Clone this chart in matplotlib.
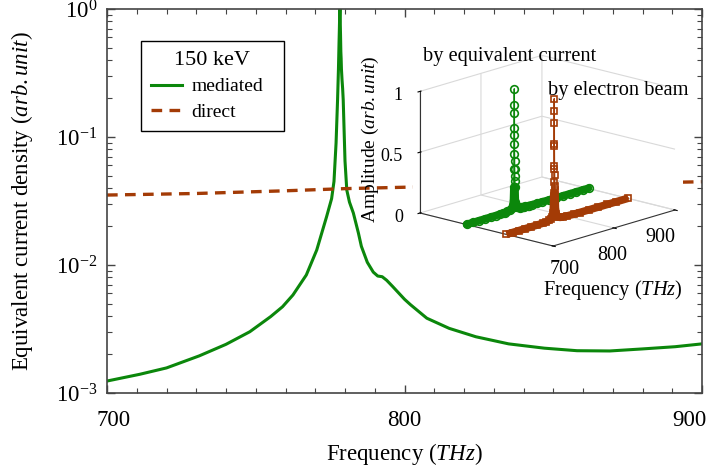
import numpy as np
import matplotlib
matplotlib.use('Agg')
import matplotlib.pyplot as plt
from matplotlib.patches import Rectangle
from matplotlib.ticker import MultipleLocator
from matplotlib.transforms import ScaledTranslation
from mpl_toolkits.mplot3d import proj3d

plt.rcParams['font.family'] = ['Liberation Serif', 'DejaVu Serif']
plt.rcParams['mathtext.fontset'] = 'custom'
plt.rcParams['mathtext.rm'] = 'Liberation Serif'
plt.rcParams['mathtext.it'] = 'Liberation Serif:italic'

GREEN = '#0b870b'
BROWN = '#a33b06'

# mediated spectrum (also used for "by equivalent current" in the inset)
freq_med = [700, 711, 720, 731, 740, 748, 755, 759, 762.5, 767, 770.5, 773.8, 775.5,
            776.3, 777.0, 777.5, 777.8, 778.0, 778.1, 778.2, 778.3, 778.4, 778.5,
            778.6, 778.7, 778.8, 779.0, 779.2, 779.4, 780.0, 780.6, 781.5, 782.8,
            784.5, 785.5, 787.5, 789.5, 791, 792.5, 794, 796, 800, 802, 807.5, 815,
            824, 835, 847, 858, 869, 880, 891, 900]
amp_med = [1.24e-3, 1.40e-3, 1.57e-3, 1.95e-3, 2.40e-3, 3.01e-3, 3.95e-3, 4.72e-3,
           5.83e-3, 8.36e-3, 1.31e-2, 2.38e-2, 3.3e-2, 4.5e-2, 9.0e-2, 0.195, 0.34,
           0.55, 0.68, 0.87, 1.0, 0.80, 0.62, 0.465, 0.41, 0.34, 0.28, 0.24, 0.195,
           0.065, 0.0385, 0.031, 0.0255, 0.0178, 0.014, 0.0105, 0.0088, 0.0082,
           0.0081, 0.0076, 0.0068, 0.0054, 0.0049, 0.00384, 0.0032, 0.00275, 0.00242,
           0.00224, 0.00214, 0.00213, 0.00221, 0.0023, 0.00242]

# direct excitation
freq_dir = [700, 730, 760, 780, 800, 850, 900]
amp_dir = [0.0352, 0.0362, 0.038, 0.0395, 0.0405, 0.0425, 0.0447]

# inset: by electron beam
freq_beam = [700, 710, 720, 730, 740, 750, 760, 765, 770, 773, 775, 776.5, 777.2,
             777.6, 777.8, 778.0, 778.1, 778.2, 778.3, 778.4, 778.5, 778.7, 778.9,
             779.2, 779.6, 780.2, 781.5, 784, 788, 792, 800, 810, 820, 835, 850, 865,
             880, 900]
amp_beam = [0.001, 0.0012, 0.0015, 0.0019, 0.0024, 0.003, 0.0045, 0.006, 0.012, 0.022,
            0.035, 0.06, 0.14, 0.225, 0.32, 0.42, 0.61, 0.80, 1.0, 0.90, 0.63, 0.45,
            0.37, 0.28, 0.25, 0.1, 0.05, 0.02, 0.01, 0.008, 0.005, 0.0035, 0.0028,
            0.0023, 0.0022, 0.0021, 0.0022, 0.0024]

inset_freq_ticks = [700, 800, 900]
inset_amp_ticks = [0, 0.5, 1]
inset_amp_labels = ['0', '0.5', '1']

W, H = 712, 468
fig = plt.figure(figsize=(W / 100, H / 100), dpi=100)


def shift(text, dx, dy):
    # move a label by some pixels (dy positive = down)
    text.set_transform(text.get_transform() +
                       ScaledTranslation(dx / 100, -dy / 100, fig.dpi_scale_trans))


# main panel
ax = fig.add_axes([107 / W, 1 - 393 / H, 595 / W, 384 / H])
ax.plot(freq_med, amp_med, color=GREEN, lw=2.2, label='mediated')
ax.plot(freq_dir, amp_dir, color=BROWN, lw=2.4, ls=(0, (3.2, 2.2)), label='direct')
ax.set_yscale('log')
ax.set_xlim(700, 900)
ax.set_ylim(1e-3, 1)
ax.set_xticks([700, 800, 900])
ax.xaxis.set_minor_locator(MultipleLocator(10))
ax.tick_params(which='both', direction='in', top=True, right=True,
               color='#444444', labelsize=16.5)
ax.tick_params(which='major', length=6, width=1)
ax.tick_params(which='minor', length=3.5, width=0.8)
ax.tick_params(axis='x', which='both', pad=12)
ax.tick_params(axis='y', which='both', pad=7)
for s in ax.spines.values():
    s.set_color('#444444')
    s.set_linewidth(1.2)
xl = ax.get_xticklabels()
shift(xl[0], 7, 0)
shift(xl[-1], -13, 0)
ax.set_xlabel('Frequency ($THz$)', fontsize=16.5)
ax.xaxis.set_label_coords(0.5, (393 - 441) / 384)
ax.set_ylabel('Equivalent current density ($arb.unit$)', fontsize=16.5)
ax.yaxis.set_label_coords((35 - 107) / 595, 0.5)

leg = ax.legend(title='150 keV', loc='upper left',
                bbox_to_anchor=(141 / W, 1 - 135 / H, 143 / W, 94 / H),
                bbox_transform=fig.transFigure, mode='expand', borderaxespad=0,
                fontsize=14, title_fontsize=16, handlelength=1.6, handletextpad=0.5,
                labelspacing=0.42, borderpad=0.5, fancybox=False, framealpha=1)
leg.get_frame().set_edgecolor('black')
leg.get_frame().set_linewidth(1.0)

# white area behind the inset
fig.add_artist(Rectangle((413 / W, 1 - 300 / H), 270 / W, 265 / H,
                         transform=fig.transFigure, facecolor='white',
                         edgecolor='none', zorder=1))

# inset 3D
with plt.rc_context({'grid.color': '#d9d9d9', 'grid.linewidth': 0.8}):
    ax3 = fig.add_axes([0.55, 0.35, 0.4, 0.6], projection='3d', proj_type='ortho')
ax3.set_zorder(2)
ax3.set_facecolor('none')
for a in (ax3.xaxis, ax3.yaxis, ax3.zaxis):
    a.set_pane_color((1, 1, 1, 0))
    a.pane.set_edgecolor('#333333')
    a.line.set_color('#333333')
    a.line.set_linewidth(0.8)
ax3.set_box_aspect((1, 1, 0.7))
ax3.view_init(elev=15.7, azim=-47.5)
ax3.set_xlim(0, 1)
ax3.set_ylim(700, 900)
ax3.set_zlim(0, 1)
ax3.set_xticks([])
ax3.set_yticks(inset_freq_ticks)
ax3.yaxis.set_ticklabels([])
ax3.set_zticks(inset_amp_ticks)
ax3.zaxis.set_ticklabels([])
ax3.zaxis.set_ticks_position('lower')

x_eq = np.full(len(freq_med), 0.35)
x_beam = np.full(len(freq_beam), 0.65)
# the dense markers along the base merge into a solid band
ax3.plot(x_eq, freq_med, np.minimum(amp_med, 0.18), color=GREEN, lw=5.5,
         solid_capstyle='round')
ax3.plot(x_eq, freq_med, amp_med, color=GREEN, lw=1,
         marker='o', ms=5.5, mfc='none', mew=1.2)
ax3.plot(x_beam, freq_beam, np.minimum(amp_beam, 0.22), color=BROWN, lw=5.5,
         solid_capstyle='butt')
ax3.plot(x_beam, freq_beam, amp_beam, color=BROWN, lw=1,
         marker='s', ms=5, mfc='none', mew=1.2)

# fit the 3D box onto its place in the picture
fig.canvas.draw()


def to_px(x, y, z):
    xs, ys, _ = proj3d.proj_transform(x, y, z, ax3.get_proj())
    return ax3.transData.transform((xs, ys))


p1 = to_px(0, 700, 0)
p2 = to_px(1, 900, 0)
bb = ax3.bbox
side = bb.width
cx, cy = (bb.x0 + bb.x1) / 2, (bb.y0 + bb.y1) / 2
u1 = (p1 - np.array([cx, cy])) / side
k = (675 - 420) / (p2[0] - p1[0])
side2 = side * k
t1 = np.array([420, H - 213])
c2 = t1 - side2 * u1
ax3.set_position([(c2[0] - side2 / 2) / W, (c2[1] - side2 / 2) / H, side2 / W, side2 / H])

# inset tick labels, placed from the projected tick positions
for v, dx, dy in zip(inset_freq_ticks, [12, -2, -15], [24, 28, 28]):
    px, py = to_px(1, v, 0)
    fig.text((px + dx) / W, (py - dy) / H, f'{v}', ha='center', va='center',
             fontsize=14.5)
for v, lab in zip(inset_amp_ticks, inset_amp_labels):
    px, py = to_px(0, 700, v)
    fig.text((px - 17) / W, (py - 4) / H, lab, ha='right', va='center', fontsize=13)

fig.text(510 / W, 1 - 57 / H, 'by equivalent current', ha='center', va='center', fontsize=14.7)
fig.text(618 / W, 1 - 90 / H, 'by electron beam', ha='center', va='center', fontsize=14.7)
fig.text(370 / W, 1 - 139 / H, 'Amplitude ($arb.unit$)', rotation=90, ha='center',
         va='center', fontsize=14)
fig.text(613 / W, 1 - 290 / H, 'Frequency ($THz$)', ha='center', va='center', fontsize=14.7)

fig.savefig('out.png', dpi=100)
